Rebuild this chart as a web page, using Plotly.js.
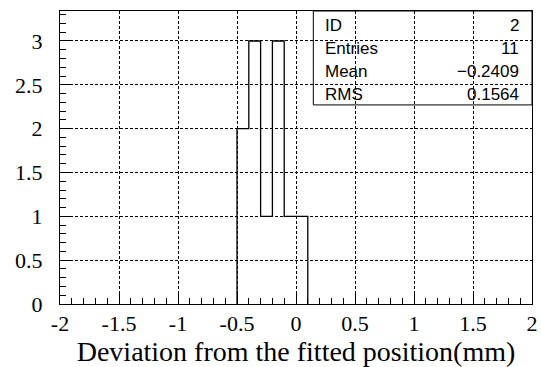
<!DOCTYPE html>
<html>
<head>
<meta charset="utf-8">
<script src="https://cdn.plot.ly/plotly-3.0.1.min.js"></script>
<style>html,body{margin:0;padding:0;background:#fff;}#chart{width:541px;height:367px;}</style>
</head>
<body>
<div id="chart"></div>
<script>
// Histogram data (bin edges and counts)
const binEdges = [-0.5, -0.4, -0.3, -0.2, -0.1, 0.0, 0.1];
const binCounts = [2, 3, 1, 3, 1, 1];

// Stats box
const statLabels = ["ID", "Entries", "Mean", "RMS"];
const statValues = ["2", "11", "\u22120.2409", "0.1564"];

// Tick labels
const xTickVals = [-2, -1.5, -1, -0.5, 0, 0.5, 1, 1.5, 2];
const xTickText = ["-2", "-1.5", "-1", "-0.5", "0", "0.5", "1", "1.5", "2"];
const yTickVals = [0, 0.5, 1, 1.5, 2, 2.5, 3];
const yTickText = ["0", "0.5", "1", "1.5", "2", "2.5", "3"];

// Step outline built from the bins
const sx = [binEdges[0]];
const sy = [0];
for (let i = 0; i < binCounts.length; i++) { sx.push(binEdges[i]); sy.push(binCounts[i]); }
sx.push(binEdges[binEdges.length - 1]); sy.push(0);

const trace = {
  x: sx, y: sy, type: 'scatter', mode: 'lines',
  line: {shape: 'hv', color: '#000', width: 1.3},
  hoverinfo: 'skip', showlegend: false
};

const serif = 'Liberation Serif';
const sans = 'Liberation Sans';

const rowY = [0.952, 0.873, 0.795, 0.716];
const annotations = [];
statLabels.forEach((t, i) => {
  annotations.push({xref: 'paper', yref: 'paper', x: 0.558, y: rowY[i], text: t,
    showarrow: false, xanchor: 'left', yanchor: 'middle',
    font: {family: sans, size: 17, color: '#000'}});
  annotations.push({xref: 'paper', yref: 'paper', x: 0.9767, y: rowY[i], text: statValues[i],
    showarrow: false, xanchor: 'right', yanchor: 'middle',
    font: {family: sans, size: 17, color: '#000'}});
});

const layout = {
  width: 541, height: 367,
  margin: {l: 60, r: 9, t: 11, b: 63, pad: 0},
  paper_bgcolor: '#fff', plot_bgcolor: '#fff',
  font: {family: serif, size: 22, color: '#000'},
  showlegend: false,
  xaxis: {
    range: [-2, 2], tickmode: 'array', tickvals: xTickVals, ticktext: xTickText,
    ticks: 'inside', ticklen: 12, tickcolor: '#000', tickwidth: 1,
    showline: true, linecolor: '#000', linewidth: 1, mirror: true,
    showgrid: true, gridcolor: '#000', gridwidth: 1, griddash: '3px,2px', zeroline: false,
    tickfont: {family: serif, size: 22, color: '#000'},
    minor: {tickmode: 'linear', dtick: 0.1, tick0: 0, ticks: 'inside', ticklen: 6, tickcolor: '#000', tickwidth: 1, showgrid: false},
    title: {text: 'Deviation from the fitted position(mm)', standoff: 6,
      font: {family: serif, size: 28, color: '#000'}}
  },
  yaxis: {
    range: [0, 3.342], tickmode: 'array', tickvals: yTickVals, ticktext: yTickText,
    ticks: 'inside', ticklen: 12, tickcolor: '#000', tickwidth: 1,
    showline: true, linecolor: '#000', linewidth: 1, mirror: true,
    showgrid: true, gridcolor: '#000', gridwidth: 1, griddash: '3px,2px', zeroline: false,
    tickfont: {family: serif, size: 22, color: '#000'}, ticklabelstandoff: 12,
    minor: {tickmode: 'linear', dtick: 0.1, tick0: 0, ticks: 'inside', ticklen: 6, tickcolor: '#000', tickwidth: 1, showgrid: false}
  },
  shapes: [{type: 'rect', xref: 'paper', yref: 'paper', x0: 0.5367, x1: 1, y0: 0.6795, y1: 1,
    line: {color: '#000', width: 1}, fillcolor: 'rgba(0,0,0,0)', layer: 'above'}],
  annotations: annotations
};

Plotly.newPlot('chart', [trace], layout, {staticPlot: true, displayModeBar: false});
</script>
</body>
</html>
